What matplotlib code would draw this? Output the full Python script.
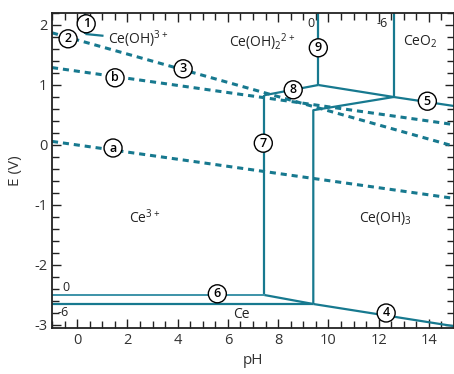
import matplotlib
matplotlib.use("Agg")
import matplotlib.pyplot as plt
from matplotlib.ticker import MultipleLocator

plt.rcParams['font.family'] = ['Open Sans', 'DejaVu Sans']
plt.rcParams['mathtext.fontset'] = 'custom'
plt.rcParams['mathtext.rm'] = 'Open Sans'
plt.rcParams['mathtext.it'] = 'Open Sans'
plt.rcParams['mathtext.bf'] = 'Open Sans:bold'

C = '#17798f'

# solid boundaries (pH, E)
line_ce3_ce_0_ph = [-1, 7.45]
line_ce3_ce_0_E = [-2.50, -2.50]
line_ce3_ce_6_ph = [-1, 9.4]
line_ce3_ce_6_E = [-2.65, -2.65]
line_slope_0_ph = [7.45, 9.4]
line_slope_0_E = [-2.50, -2.65]
line4_ph = [9.4, 15]
line4_E = [-2.65, -3.02]
line7_ph = [7.45, 7.45]
line7_E = [-2.50, 0.83]
line8_ph = [7.45, 9.6]
line8_E = [0.83, 1.00]
line9_ph = [9.6, 9.6]
line9_E = [1.00, 2.2]
line5_ph = [9.6, 12.6, 15]
line5_E = [1.00, 0.80, 0.65]
lineCeO2_ph = [12.6, 12.6]
lineCeO2_E = [0.80, 2.2]
lineOH3_ph = [9.4, 9.4, 12.6]
lineOH3_E = [-2.65, 0.58, 0.80]
line1v_ph = [0.33, 0.33]
line1v_E = [2.2, 1.85]
line1h_ph = [0.33, 1.05]
line1h_E = [1.85, 1.82]

# dashed lines
line3_ph = [-1, 15]
line3_E = [1.87, -0.02]
lineb_ph = [-1, 15]
lineb_E = [1.29, 0.34]
linea_ph = [-1, 15]
linea_E = [0.06, -0.89]

circle_labels = ['1', '2', '3', 'b', 'a', '8', '9', '5', '7', '6', '4']
circle_ph = [0.36, -0.36, 4.22, 1.51, 1.43, 8.6, 9.6, 13.94, 7.41, 5.58, 12.3]
circle_E = [2.02, 1.77, 1.27, 1.12, -0.05, 0.92, 1.62, 0.73, 0.03, -2.48, -2.80]

fig = plt.figure(figsize=(4.54, 3.74), dpi=100)
ax = fig.add_axes([52/454, 46/374, 402/454, 315/374])

solid = [(line_ce3_ce_6_ph, line_ce3_ce_6_E), (line_slope_0_ph, line_slope_0_E),
         (line4_ph, line4_E), (line7_ph, line7_E), (line8_ph, line8_E),
         (line9_ph, line9_E), (line5_ph, line5_E), (lineCeO2_ph, lineCeO2_E),
         (lineOH3_ph, lineOH3_E), (line1v_ph, line1v_E), (line1h_ph, line1h_E)]
for xs, ys in solid:
    ax.plot(xs, ys, color=C, lw=1.6, solid_capstyle='butt', zorder=2)
ax.plot(line_ce3_ce_0_ph, line_ce3_ce_0_E, color='#3c93a8', lw=1.4, zorder=2)

for xs, ys in [(line3_ph, line3_E), (lineb_ph, lineb_E), (linea_ph, linea_E)]:
    ax.plot(xs, ys, color=C, lw=2.2, ls=(0, (2.0, 1.6)), zorder=2)

for t, x, y in zip(circle_labels, circle_ph, circle_E):
    ax.text(x, y, t, ha='center', va='center', fontsize=9, fontweight='semibold',
            color='black', zorder=5,
            bbox=dict(boxstyle='circle,pad=0.2', fc='white', ec='black', lw=1.0))

txt = dict(fontsize=10, color='#222222', zorder=4)
ax.text(1.23, 1.77, 'Ce(OH)$^{3+}$', ha='left', va='center', **txt)
ax.text(7.37, 1.72, 'Ce(OH)$_2$$^{2+}$', ha='center', va='center', **txt)
ax.text(13.67, 1.72, 'CeO$_2$', ha='center', va='center', **txt)
ax.text(2.7, -1.22, 'Ce$^{3+}$', ha='center', va='center', **txt)
ax.text(12.27, -1.22, 'Ce(OH)$_3$', ha='center', va='center', **txt)
ax.text(6.53, -2.82, 'Ce', ha='center', va='center', **txt)

small = dict(fontsize=9, color='#222222', ha='center', va='center')
ax.text(-0.44, -2.37, '0', **small)
ax.text(-0.56, -2.80, '-6', **small)
ax.text(9.32, 2.02, '0', **small)
ax.text(12.15, 2.02, '-6', **small)

ax.set_xlim(-1, 15)
ax.set_ylim(-3.05, 2.2)
ax.xaxis.set_major_locator(MultipleLocator(2))
ax.xaxis.set_minor_locator(MultipleLocator(0.5))
ax.yaxis.set_major_locator(MultipleLocator(1))
ax.yaxis.set_minor_locator(MultipleLocator(0.2))
ax.tick_params(which='both', direction='in', top=True, right=True,
               colors='#222222', labelcolor='#333333', labelsize=10.5, width=1.0)
ax.tick_params(which='major', length=6.5)
ax.tick_params(which='minor', length=5)
ax.set_yticks([-3, -2, -1, 0, 1, 2])
ax.set_yticklabels(['-3', '-2', '-1', '0', '1', '2'])
for s in ax.spines.values():
    s.set_linewidth(1.3)
    s.set_color('#222222')
ax.set_xlabel('pH', fontsize=11, color='#333333', labelpad=4)
ax.set_ylabel('E (V)', fontsize=11, color='#333333', labelpad=8)

fig.savefig('out.png', dpi=100)
